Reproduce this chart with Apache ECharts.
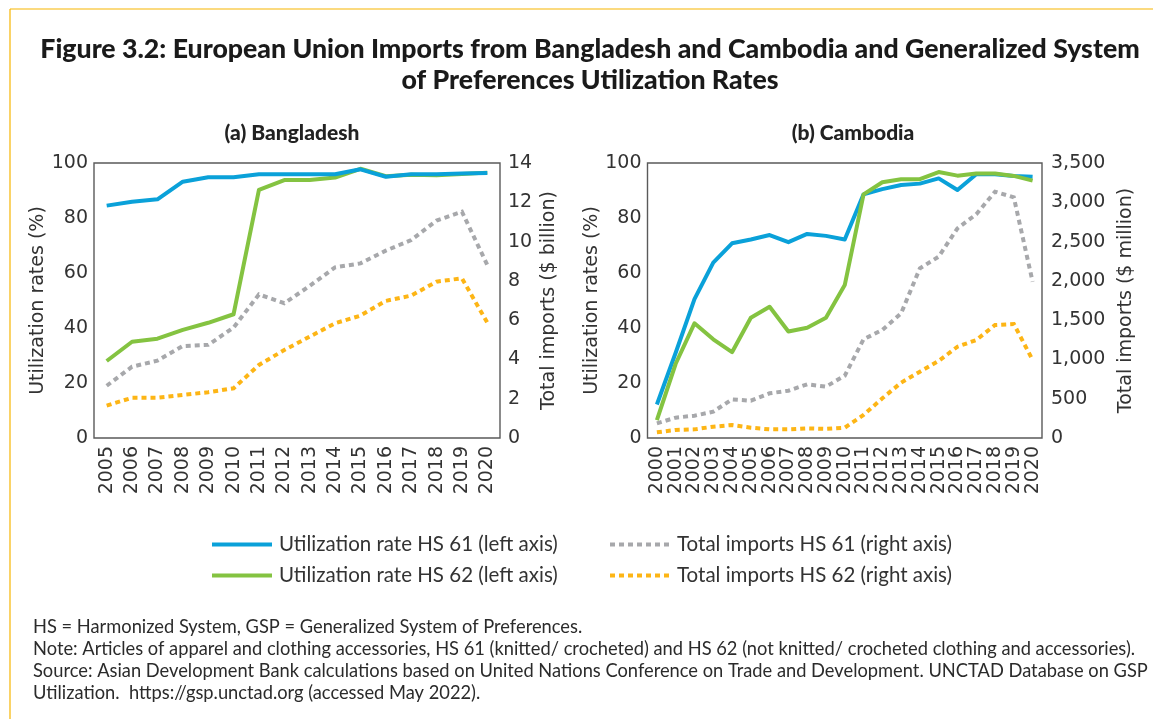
<!DOCTYPE html>
<html>
<head>
<meta charset="utf-8">
<script src="https://cdn.jsdelivr.net/npm/echarts@6/dist/echarts.min.js"></script>
<style>
  html, body { margin: 0; padding: 0; background: #ffffff; }
  #chart { width: 1153px; height: 719px; }
</style>
</head>
<body>
<div id="chart"></div>
<script>
// Years on each panel's category axis
const yearsBangladesh = ['2005','2006','2007','2008','2009','2010','2011','2012','2013','2014','2015','2016','2017','2018','2019','2020'];
const yearsCambodia = ['2000','2001','2002','2003','2004','2005','2006','2007','2008','2009','2010','2011','2012','2013','2014','2015','2016','2017','2018','2019','2020'];

// (a) Bangladesh: GSP utilization rates (%) and EU imports ($ billion)
const bdUtil61 = [84.5, 85.9, 86.8, 93.2, 94.8, 94.8, 95.9, 95.9, 95.9, 95.9, 97.7, 95.0, 95.9, 95.9, 96.2, 96.4];
const bdUtil62 = [28.0, 35.0, 36.1, 39.3, 41.9, 45.0, 90.2, 93.8, 93.8, 94.7, 97.9, 95.2, 95.7, 95.5, 96.0, 96.5];
const bdImports61 = [2.66, 3.63, 3.94, 4.68, 4.74, 5.62, 7.31, 6.86, 7.74, 8.69, 8.89, 9.54, 10.08, 11.07, 11.52, 8.81];
const bdImports62 = [1.65, 2.05, 2.05, 2.19, 2.33, 2.53, 3.72, 4.48, 5.16, 5.84, 6.23, 6.98, 7.25, 7.96, 8.13, 5.87];

// (b) Cambodia: GSP utilization rates (%) and EU imports ($ million)
const khUtil61 = [12.2, 31.0, 50.5, 63.8, 70.8, 72.2, 73.8, 71.2, 74.2, 73.5, 72.2, 88.6, 90.5, 92.0, 92.5, 94.4, 90.2, 95.9, 95.9, 95.3, 95.0];
const khUtil62 = [6.5, 27.0, 41.7, 35.9, 31.2, 43.7, 47.7, 38.7, 40.1, 43.7, 55.6, 88.6, 93.0, 94.1, 94.1, 96.7, 95.4, 96.2, 96.2, 95.3, 93.6];
const khImports61 = [187, 259, 284, 335, 492, 475, 569, 602, 683, 653, 793, 1256, 1375, 1587, 2160, 2308, 2669, 2847, 3135, 3063, 1989];
const khImports62 = [72, 102, 110, 144, 165, 131, 110, 110, 123, 116, 131, 293, 505, 704, 844, 980, 1162, 1247, 1438, 1451, 993];

// Axis ranges and step sizes
const utilAxis = { min: 0, max: 100, interval: 20 };
const bdImportAxis = { min: 0, max: 14, interval: 2 };
const khImportAxis = { min: 0, max: 3500, interval: 500 };

const names = {
  util61: 'Utilization rate HS 61 (left axis)',
  util62: 'Utilization rate HS 62 (left axis)',
  imp61: 'Total imports HS 61 (right axis)',
  imp62: 'Total imports HS 62 (right axis)'
};

const colors = {
  blue: '#0aa1d9',
  green: '#84c341',
  gray: '#a7a8ab',
  orange: '#fdb515',
  text: '#333333',
  frame: '#5a5a5a',
  rule: '#f7b500'
};

const tickFont = 'DejaVu Sans';
const textFont = 'Lato';

function yAxisCfg(gridIndex, range, position, name, nameGap, labelMargin, fmt) {
  return {
    type: 'value',
    gridIndex: gridIndex,
    position: position,
    min: range.min,
    max: range.max,
    interval: range.interval,
    name: name,
    nameLocation: 'middle',
    nameRotate: 90,
    nameGap: nameGap,
    nameTextStyle: { fontFamily: tickFont, fontSize: 19, color: colors.text },
    axisLine: { show: false },
    axisTick: { show: false },
    splitLine: { show: false },
    axisLabel: {
      fontFamily: tickFont, fontSize: 19, color: colors.text, margin: labelMargin,
      formatter: fmt || undefined
    }
  };
}

function xAxisCfg(gridIndex, cats) {
  return {
    type: 'category',
    gridIndex: gridIndex,
    data: cats,
    boundaryGap: true,
    axisLine: { show: false },
    axisTick: { show: false },
    splitLine: { show: false },
    axisLabel: {
      rotate: 90, interval: 0, margin: 8,
      fontFamily: tickFont, fontSize: 19, color: colors.text
    }
  };
}

function solid(name, xi, yi, data, color) {
  return {
    type: 'line', name: name, xAxisIndex: xi, yAxisIndex: yi, data: data,
    symbol: 'none', smooth: false,
    lineStyle: { color: color, width: 4, cap: 'butt', join: 'round' },
    itemStyle: { color: color }
  };
}

function dotted(name, xi, yi, data, color) {
  return {
    type: 'line', name: name, xAxisIndex: xi, yAxisIndex: yi, data: data,
    symbol: 'none', smooth: false,
    lineStyle: { color: color, width: 4, type: [5, 4], cap: 'butt', join: 'miter' },
    itemStyle: { color: color }
  };
}

const thousands = v => v.toLocaleString('en-US');

function legendCfg(left, items) {
  return {
    orient: 'vertical', left: left, top: 529, itemWidth: 60, itemHeight: 14, itemGap: 10,
    data: items,
    itemStyle: { opacity: 0 },
    lineStyle: { width: 4 },
    textStyle: { fontFamily: textFont, fontSize: 20.5, lineHeight: 20, color: colors.text, padding: [0, 0, 0, 2] }
  };
}

const option = {
  animation: false,
  backgroundColor: '#ffffff',
  title: [
    {
      text: 'Figure 3.2: European Union Imports from Bangladesh and Cambodia and Generalized System\nof Preferences Utilization Rates',
      left: 585, top: 29, textAlign: 'center',
      textStyle: { fontFamily: textFont, fontWeight: 900, fontSize: 26.7, color: '#1a1a1a', lineHeight: 31, align: 'center' }
    },
    {
      text: '(a) Bangladesh', left: 287, top: 118, textAlign: 'center',
      textStyle: { fontFamily: textFont, fontWeight: 900, fontSize: 21, color: '#222222' }
    },
    {
      text: '(b) Cambodia', left: 848, top: 118, textAlign: 'center',
      textStyle: { fontFamily: textFont, fontWeight: 900, fontSize: 21, color: '#222222' }
    }
  ],
  grid: [
    { left: 94, top: 163, width: 406, height: 275, show: true, borderColor: colors.frame, borderWidth: 1.4, backgroundColor: 'transparent' },
    { left: 647.5, top: 163, width: 394.5, height: 275, show: true, borderColor: colors.frame, borderWidth: 1.4, backgroundColor: 'transparent' }
  ],
  xAxis: [xAxisCfg(0, yearsBangladesh), xAxisCfg(1, yearsCambodia)],
  yAxis: [
    yAxisCfg(0, utilAxis, 'left', 'Utilization rates (%)', 42, 6),
    yAxisCfg(0, bdImportAxis, 'right', 'Total imports ($ billion)', 40, 8),
    yAxisCfg(1, utilAxis, 'left', 'Utilization rates (%)', 42, 6),
    yAxisCfg(1, khImportAxis, 'right', 'Total imports ($ million)', 75, 9, thousands)
  ],
  legend: [
    legendCfg(205, [names.util61, names.util62]),
    legendCfg(603, [names.imp61, names.imp62])
  ],
  series: [
    dotted(names.imp61, 0, 1, bdImports61, colors.gray),
    dotted(names.imp62, 0, 1, bdImports62, colors.orange),
    solid(names.util62, 0, 0, bdUtil62, colors.green),
    solid(names.util61, 0, 0, bdUtil61, colors.blue),
    dotted(names.imp61, 1, 3, khImports61, colors.gray),
    dotted(names.imp62, 1, 3, khImports62, colors.orange),
    solid(names.util61, 1, 2, khUtil61, colors.blue),
    solid(names.util62, 1, 2, khUtil62, colors.green)
  ],
  graphic: [
    // page rule along the top and left edges
    { type: 'line', shape: { x1: 10, y1: 9, x2: 1153, y2: 9 }, style: { stroke: colors.rule, lineWidth: 1.2 } },
    { type: 'line', shape: { x1: 10, y1: 9, x2: 10, y2: 719 }, style: { stroke: colors.rule, lineWidth: 1.2 } },
    {
      type: 'text', left: 33, top: 616,
      style: {
        text: 'HS = Harmonized System, GSP = Generalized System of Preferences.\n' +
              'Note: Articles of apparel and clothing accessories, HS 61 (knitted/ crocheted) and HS 62 (not knitted/ crocheted clothing and accessories).\n' +
              'Source: Asian Development Bank calculations based on United Nations Conference on Trade and Development. UNCTAD Database on GSP\n' +
              'Utilization.  https://gsp.unctad.org (accessed May 2022).',
        font: '18.3px Lato', fill: '#2b2b2b', lineHeight: 22
      }
    }
  ]
};

const chart = echarts.init(document.getElementById('chart'), null, { renderer: 'canvas' });
chart.setOption(option);
</script>
</body>
</html>
